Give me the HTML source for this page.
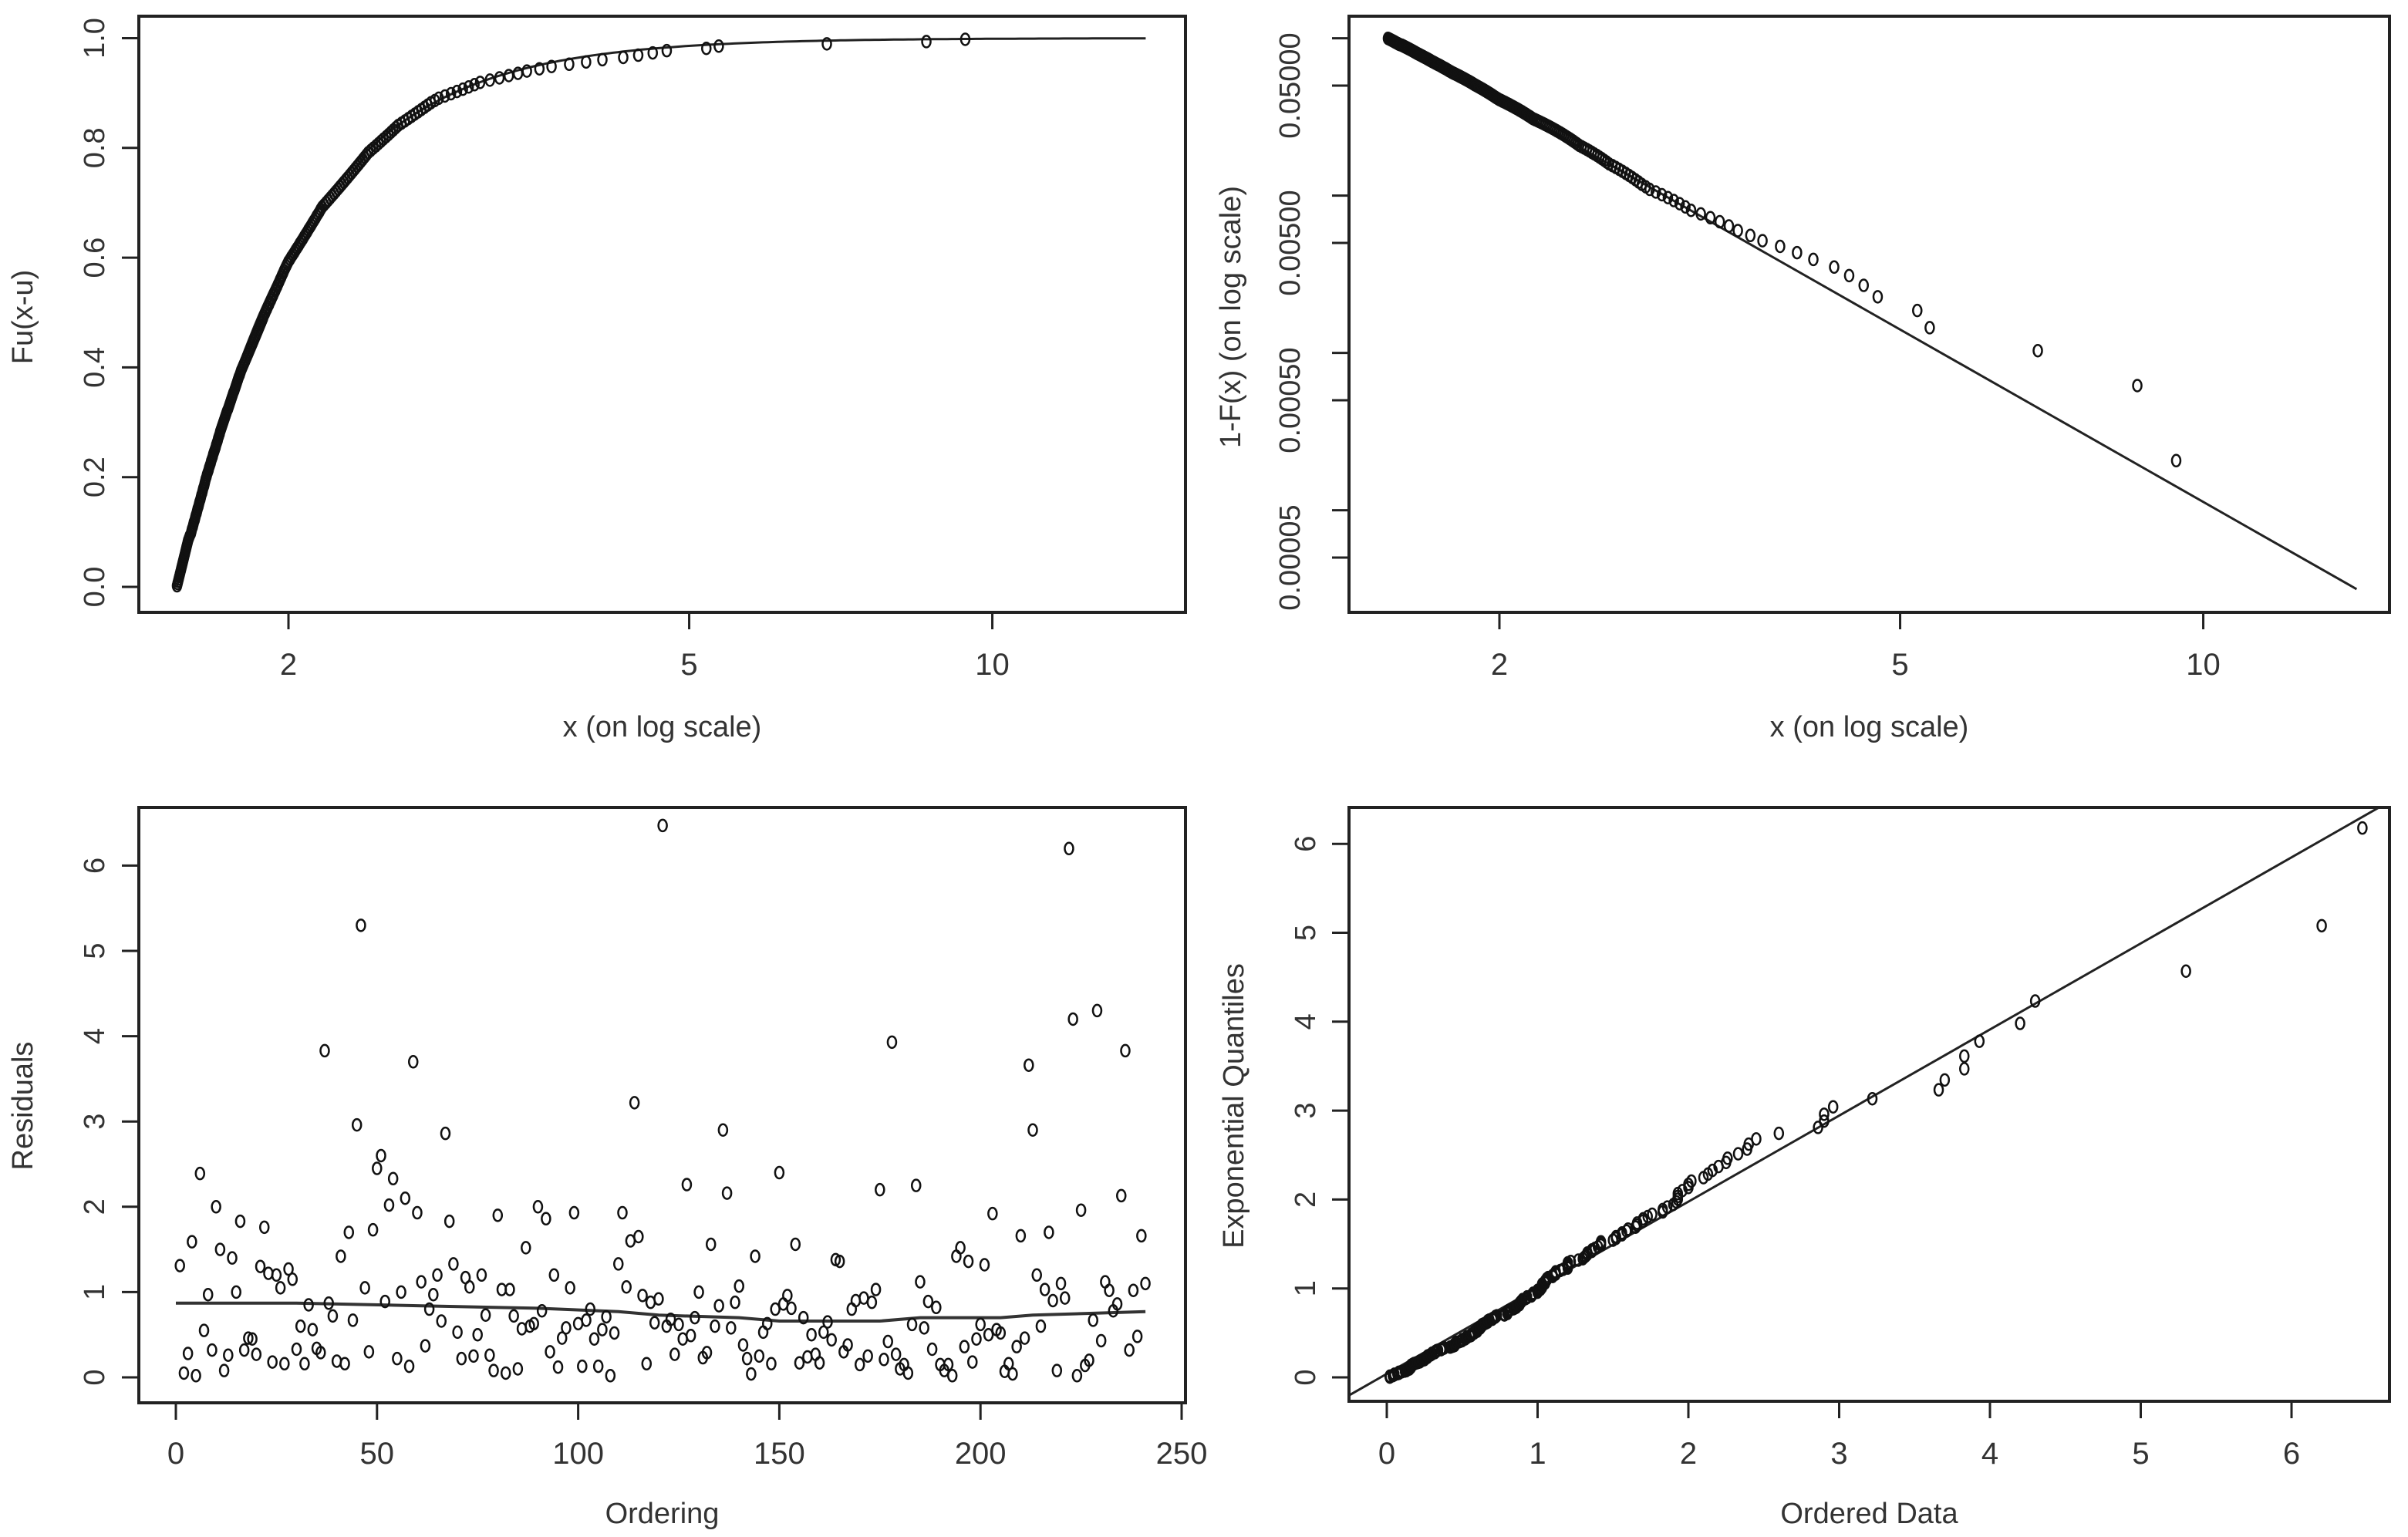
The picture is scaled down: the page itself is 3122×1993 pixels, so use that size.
<!DOCTYPE html>
<html><head><meta charset="utf-8"><style>
html,body{margin:0;padding:0;background:#fff}
svg{display:block}
text{font-family:"Liberation Sans",sans-serif;fill:#333}
</style></head><body>
<svg id="fig" width="3122" height="1993" viewBox="0 0 3122 1993" xmlns="http://www.w3.org/2000/svg"></svg>
<script>
// ---- data ----
const exceedances = [1.55,1.552,1.554,1.556,1.558,1.56,1.562,1.564,1.566,1.568,1.57,1.572,1.574,1.576,1.578,1.58,1.582,1.584,1.586,1.588,1.59,1.593,1.596,1.6,
1.602,1.604,1.607,1.609,1.611,1.614,1.616,1.618,1.621,1.623,1.625,1.628,1.63,1.632,1.635,1.637,1.639,1.642,1.644,1.646,1.649,1.651,1.653,1.655,
1.658,1.66,1.663,1.666,1.668,1.671,1.674,1.676,1.679,1.682,1.684,1.687,1.69,1.693,1.695,1.698,1.701,1.703,1.706,1.709,1.711,1.714,1.717,1.72,
1.723,1.726,1.729,1.732,1.735,1.738,1.742,1.745,1.748,1.751,1.754,1.757,1.76,1.763,1.767,1.77,1.773,1.776,1.779,1.782,1.785,1.789,1.792,1.795,
1.799,1.803,1.807,1.811,1.815,1.819,1.823,1.827,1.831,1.835,1.839,1.843,1.847,1.851,1.855,1.859,1.863,1.867,1.871,1.875,1.879,1.883,1.887,1.89,
1.895,1.899,1.904,1.908,1.913,1.917,1.922,1.926,1.931,1.935,1.94,1.944,1.949,1.953,1.958,1.962,1.967,1.971,1.976,1.98,1.985,1.99,1.995,2.0,
2.007,2.013,2.02,2.027,2.033,2.04,2.047,2.053,2.06,2.067,2.073,2.08,2.087,2.093,2.1,2.107,2.113,2.12,2.127,2.133,2.14,2.147,2.153,2.16,
2.17,2.18,2.19,2.2,2.21,2.22,2.23,2.24,2.25,2.26,2.27,2.28,2.29,2.3,2.31,2.32,2.33,2.34,2.35,2.36,2.37,2.38,2.39,2.4,
2.414,2.428,2.443,2.457,2.471,2.485,2.5,2.514,2.528,2.542,2.556,2.57,
2.59,2.61,2.63,2.65,2.67,2.69,2.71,2.73,2.75,2.77,2.795,2.82,
2.86,2.9,2.94,2.98,3.02,3.06,3.1,3.17,3.24,3.31,3.38,3.45,3.55,3.65,3.8,3.95,4.1,4.3,4.45,4.6,4.75,5.2,5.35,6.85,8.6,9.4];
const residuals = [1.31,0.05,0.28,1.59,0.02,2.39,0.55,0.97,0.32,2.0,1.5,0.08,0.26,1.4,1.0,1.83,0.32,0.46,0.45,0.27,1.3,1.76,1.22,0.18,1.2,1.05,0.16,1.27,1.15,0.33,0.6,0.16,0.85,0.56,0.34,0.29,3.83,0.87,0.72,0.19,1.42,0.16,1.7,0.67,2.96,5.3,1.05,0.3,1.73,2.45,2.6,0.89,2.02,2.33,0.22,1.0,2.1,0.13,3.7,1.93,1.12,0.37,0.8,0.97,1.2,0.66,2.86,1.83,1.33,0.53,0.22,1.17,1.06,0.25,0.5,1.2,0.73,0.26,0.08,1.9,1.03,0.05,1.03,0.72,0.1,0.57,1.52,0.6,0.63,2.0,0.78,1.86,0.3,1.2,0.12,0.46,0.58,1.05,1.93,0.63,0.13,0.67,0.8,0.45,0.13,0.56,0.71,0.02,0.52,1.33,1.93,1.06,1.6,3.22,1.65,0.96,0.16,0.88,0.64,0.92,6.47,0.6,0.68,0.27,0.62,0.45,2.26,0.49,0.7,1.0,0.23,0.29,1.56,0.6,0.84,2.9,2.16,0.58,0.88,1.07,0.38,0.22,0.04,1.42,0.25,0.53,0.63,0.16,0.8,2.4,0.86,0.96,0.81,1.56,0.17,0.7,0.24,0.5,0.27,0.17,0.53,0.65,0.44,1.38,1.36,0.3,0.38,0.8,0.9,0.15,0.93,0.25,0.88,1.03,2.2,0.21,0.42,3.93,0.27,0.1,0.15,0.05,0.62,2.25,1.12,0.58,0.89,0.33,0.82,0.15,0.08,0.15,0.02,1.42,1.52,0.36,1.36,0.18,0.45,0.62,1.32,0.5,1.92,0.56,0.52,0.07,0.16,0.04,0.36,1.66,0.46,3.66,2.9,1.2,0.6,1.03,1.7,0.9,0.08,1.1,0.93,6.2,4.2,0.02,1.96,0.14,0.2,0.67,4.3,0.43,1.12,1.02,0.78,0.86,2.13,3.83,0.32,1.02,0.48,1.66,1.1];
const trendX = [0,30,60,90,110,120,140,150,175,185,205,213,241];
const trendY = [0.87,0.87,0.84,0.81,0.77,0.73,0.70,0.66,0.66,0.70,0.70,0.73,0.77];
const paretoParams = [1.55, 3.64, 0.1]; // threshold u, shape alpha, exceedance rate zeta
const qqLineParams = [0.04, 0.968]; // intercept, slope
const logXTicks = [2,5,10];
const cdfTicks = [0,0.2,0.4,0.6,0.8,1.0];
const cdfTickLabels = ["0.0","0.2","0.4","0.6","0.8","1.0"];
const survTicks = [0.1,0.05,0.01,0.005,0.001,0.0005,0.0001,0.00005];
const survTickLabels = ["","0.05000","","0.00500","","0.00050","","0.00005"];
const ordTicks = [0,50,100,150,200,250];
const resTicks = [0,1,2,3,4,5,6];
const qqTicks = [0,1,2,3,4,5,6];

// ---- helpers ----
const NS="http://www.w3.org/2000/svg";
const svg=document.getElementById('fig');
function mk(tag,attrs,parent){const e=document.createElementNS(NS,tag);for(const k in attrs)e.setAttribute(k,attrs[k]);(parent||svg).appendChild(e);return e;}
function txt(s,x,y,size,rot,parent){const t=mk('text',{x:x,y:y,'font-size':size,'text-anchor':'middle'},parent);
  if(rot)t.setAttribute('transform','rotate(-90 '+x+' '+y+')');t.textContent=s;return t;}
function panel(name,L,T,R,B){const g=mk('g',{});
  
  
  const r=mk('rect',{x:L,y:T,width:R-L,height:B-T,fill:'none',stroke:'#222','stroke-width':4},g);
  
  
  return g;}
function xTicks(g,vals,labels,sx,B,ly){const ax=mk('g',{},g);
  
  
  vals.forEach((v,i)=>{const x=sx(v);mk('line',{x1:x,x2:x,y1:B,y2:B+22,stroke:'#222','stroke-width':3},ax);
    const t=txt(labels[i],x,ly,40,false,ax);
    
    });}
function yTicks(g,vals,labels,sy,L,lx){const ax=mk('g',{},g);
  
  
  vals.forEach((v,i)=>{const y=sy(v);mk('line',{x1:L-22,x2:L,y1:y,y2:y,stroke:'#222','stroke-width':3},ax);
    if(labels[i]){const t=txt(labels[i],lx,y,38,true,ax);
    
    }});}
function pt(g,x,y){const e=mk('ellipse',{cx:x,cy:y,rx:5.5,ry:7.5,fill:'none',stroke:'#111','stroke-width':2.5},g);
  
  }
function title(g,s,x,y,rot,name){const t=txt(s,x,y,38,rot,g);
  
  }

const n=exceedances.length;
const u=paretoParams[0],alpha=paretoParams[1],zeta=paretoParams[2];

// ---- Panel 1: CDF ----
(function(){
 const L=180,T=21,R=1537,B=794;
 const g=panel('cdf-panel',L,T,R,B);
 const sx=v=>374+567*Math.log(v/2);
 const sy=v=>761-711.5*v;
 xTicks(g,logXTicks,logXTicks.map(String),sx,B,875);
 yTicks(g,cdfTicks,cdfTickLabels,sy,L,135);
 title(g,'x (on log scale)',(L+R)/2,955,false,'x-axis-title');
 title(g,'Fu(x-u)',42,411,true,'y-axis-title');
 let d='';for(let k=0;k<=200;k++){const x=u*Math.exp(k/200*Math.log(14.2/u));const F=1-Math.pow(x/u,-alpha);d+=(k?'L':'M')+sx(x).toFixed(1)+' '+sy(F).toFixed(1);}
 const p=mk('path',{d:d,fill:'none',stroke:'#222','stroke-width':3},g);
 
 
 exceedances.forEach((x,i)=>pt(g,sx(x),sy((i+0.5)/n)));
})();

// ---- Panel 2: survival ----
(function(){
 const L=1749,T=21,R=3098,B=794;
 const g=panel('tail-panel',L,T,R,B);
 const sx=v=>1944+567*Math.log(v/2);
 const sy=v=>111-204*Math.log10(v/0.05);
 xTicks(g,logXTicks,logXTicks.map(String),sx,B,875);
 yTicks(g,survTicks,survTickLabels,sy,L,1685);
 title(g,'x (on log scale)',(L+R)/2,955,false,'x-axis-title');
 title(g,'1-F(x) (on log scale)',1608,411,true,'y-axis-title');
 const x0=u,x1=14.2;
 const l=mk('line',{x1:sx(x0),y1:sy(zeta*Math.pow(x0/u,-alpha)),x2:sx(x1),y2:sy(zeta*Math.pow(x1/u,-alpha)),stroke:'#222','stroke-width':3},g);
 
 
 exceedances.forEach((x,i)=>pt(g,sx(x),sy(zeta*(1-(i+0.5)/n))));
})();

// ---- Panel 3: residuals ----
(function(){
 const L=180,T=1047,R=1537,B=1819;
 const g=panel('residuals-panel',L,T,R,B);
 const sx=v=>228+5.216*v;
 const sy=v=>1786-110.6*v;
 xTicks(g,ordTicks,ordTicks.map(String),sx,B,1898);
 yTicks(g,resTicks,resTicks.map(String),sy,L,135);
 title(g,'Ordering',(L+R)/2,1975,false,'x-axis-title');
 title(g,'Residuals',42,1434,true,'y-axis-title');
 let d='';trendX.forEach((x,i)=>{d+=(i?'L':'M')+sx(x).toFixed(1)+' '+sy(trendY[i]).toFixed(1);});
 const p=mk('path',{d:d,fill:'none',stroke:'#333','stroke-width':4},g);
 
 
 residuals.forEach((v,i)=>pt(g,sx(i+1),sy(v)));
})();

// ---- Panel 4: QQ ----
(function(){
 const L=1749,T=1047,R=3098,B=1817;
 const g=panel('qq-panel',L,T,R,B);
 const sx=v=>1798+195.5*v;
 const sy=v=>1786-115.3*v;
 xTicks(g,qqTicks,qqTicks.map(String),sx,B,1898);
 yTicks(g,qqTicks,qqTicks.map(String),sy,L,1705);
 title(g,'Ordered Data',(L+R)/2,1975,false,'x-axis-title');
 title(g,'Exponential Quantiles',1612,1434,true,'y-axis-title');
 const a=qqLineParams[0],b=qqLineParams[1];
 const cp=mk('clipPath',{id:'qqclip'},g);mk('rect',{x:L,y:T,width:R-L,height:B-T},cp);
 const l=mk('line',{x1:sx(-0.3),y1:sy(a+b*-0.3),x2:sx(6.8),y2:sy(a+b*6.8),stroke:'#222','stroke-width':3,'clip-path':'url(#qqclip)'},g);
 
 
 const sorted=residuals.slice().sort((p,q)=>p-q);const m=sorted.length;
 sorted.forEach((v,i)=>pt(g,sx(v),sy(-Math.log(1-(i+0.5)/m))));
})();
</script>
</body></html>
